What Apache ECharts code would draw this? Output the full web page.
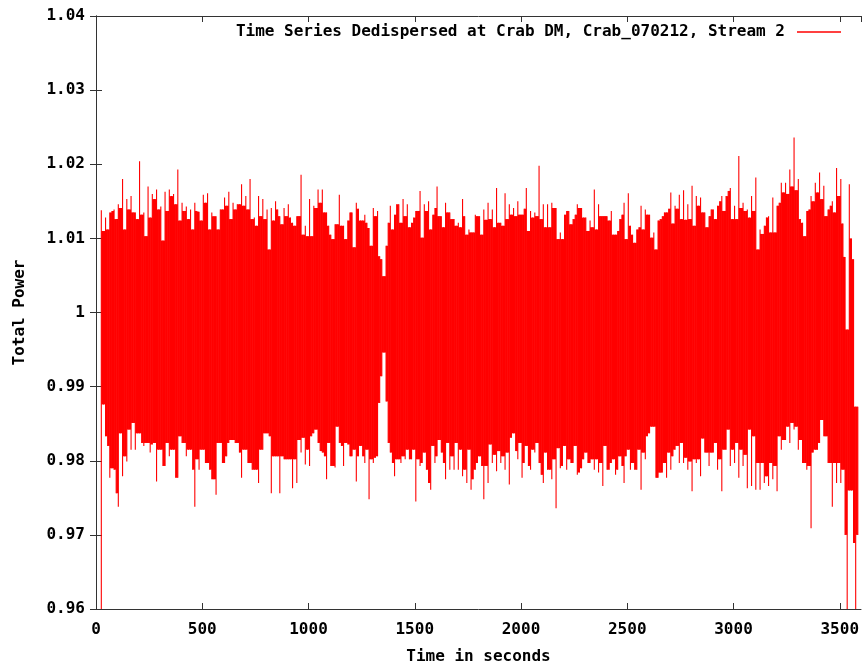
<!DOCTYPE html>
<html>
<head>
<meta charset="utf-8">
<script src="https://cdn.jsdelivr.net/npm/echarts@6/dist/echarts.min.js"></script>
<style>
html,body{margin:0;padding:0;background:#fff;}
#chart{width:866px;height:666px;}
</style>
</head>
<body>
<div id="chart"></div>
<script>
// Sample times (seconds)
const time = [
25,35,45,55,65,75,85,95,105,115,125,135,145,155,165,175,185,195,205,215,
225,235,245,255,265,275,285,295,305,315,325,335,345,355,365,375,385,395,405,415,
425,435,445,455,465,475,485,495,505,515,525,535,545,555,565,575,585,595,605,615,
625,635,645,655,665,675,685,695,705,715,725,735,745,755,765,775,785,795,805,815,
825,835,845,855,865,875,885,895,
905,915,925,935,945,955,965,975,985,995,1005,1015,1025,1035,1045,1055,1065,1075,1085,1095,
1105,1115,1125,1135,1145,1155,1165,1175,1185,1195,1205,1215,1225,1235,1245,1255,1265,1275,1285,1295,
1305,1315,1325,1335,1345,1355,1365,1375,1385,1395,1405,1415,1425,1435,1445,1455,1465,1475,1485,1495,
1505,1515,1525,1535,1545,1555,1565,1575,1585,1595,1605,1615,1625,1635,1645,1655,1665,1675,1685,1695,
1705,1715,1725,1735,1745,1755,1765,1775,1785,1795,
1805,1815,1825,1835,1845,1855,1865,1875,1885,1895,1905,1915,1925,1935,1945,1955,1965,1975,1985,1995,
2005,2015,2025,2035,2045,2055,2065,2075,2085,2095,2105,2115,2125,2135,2145,2155,2165,2175,2185,2195,
2205,2215,2225,2235,2245,2255,2265,2275,2285,2295,2305,2315,2325,2335,2345,2355,2365,2375,2385,2395,
2405,2415,2425,2435,2445,2455,2465,2475,2485,2495,2505,2515,2525,2535,2545,2555,2565,2575,2585,2595,
2605,2615,2625,2635,2645,2655,2665,2675,2685,2695,
2705,2715,2725,2735,2745,2755,2765,2775,2785,2795,2805,2815,2825,2835,2845,2855,2865,2875,2885,2895,
2905,2915,2925,2935,2945,2955,2965,2975,2985,2995,3005,3015,3025,3035,3045,3055,3065,3075,3085,3095,
3105,3115,3125,3135,3145,3155,3165,3175,3185,3195,3205,3215,3225,3235,3245,3255,3265,3275,3285,3295,
3305,3315,3325,3335,3345,3355,3365,3375,3385,3395,3405,3415,3425,3435,3445,3455,3465,3475,3485,3495,
3505,3515,3525,3535,3545,3555,3565,3575,3585
];
// Upper envelope of total power
const high = [
1.0138,1.0110,1.0128,1.0112,1.0135,1.0137,1.0139,1.0126,1.0146,1.0141,1.0180,1.0112,1.0153,1.0139,1.0157,1.0135,1.0135,1.0126,1.0204,1.0132,
1.0135,1.0103,1.0170,1.0128,1.0160,1.0153,1.0166,1.0139,1.0143,1.0097,1.0163,1.0137,1.0166,1.0157,1.0160,1.0146,1.0193,1.0124,1.0148,1.0137,
1.0143,1.0126,1.0139,1.0112,1.0148,1.0137,1.0136,1.0124,1.0159,1.0148,1.0161,1.0112,1.0135,1.0130,1.0130,1.0112,1.0139,1.0139,1.0155,1.0144,
1.0163,1.0126,1.0148,1.0139,1.0146,1.0146,1.0173,1.0144,1.0157,1.0139,1.0180,1.0126,1.0128,1.0117,1.0157,1.0130,1.0153,1.0126,1.0139,1.0085,
1.0141,1.0124,1.0150,1.0139,1.0130,1.0119,1.0141,1.0130,
1.0146,1.0128,1.0121,1.0117,1.0130,1.0130,1.0186,1.0105,1.0117,1.0103,1.0153,1.0103,1.0144,1.0141,1.0166,1.0148,1.0166,1.0135,1.0135,1.0117,
1.0105,1.0099,1.0119,1.0119,1.0159,1.0117,1.0117,1.0099,1.0124,1.0135,1.0135,1.0088,1.0148,1.0140,1.0124,1.0124,1.0132,1.0121,1.0114,1.0090,
1.0141,1.0130,1.0137,1.0076,1.0072,1.0049,1.0090,1.0121,1.0144,1.0112,1.0132,1.0146,1.0146,1.0121,1.0153,1.0130,1.0146,1.0115,1.0121,1.0128,
1.0137,1.0137,1.0164,1.0101,1.0146,1.0137,1.0150,1.0112,1.0132,1.0141,1.0170,1.0130,1.0130,1.0115,1.0148,1.0135,1.0135,1.0126,1.0126,1.0117,
1.0121,1.0115,1.0153,1.0130,1.0105,1.0112,1.0108,1.0108,1.0132,1.0130,
1.0130,1.0105,1.0139,1.0125,1.0148,1.0126,1.0139,1.0115,1.0168,1.0121,1.0121,1.0117,1.0161,1.0126,1.0146,1.0132,1.0141,1.0130,1.0150,1.0132,
1.0132,1.0140,1.0168,1.0110,1.0137,1.0128,1.0135,1.0130,1.0198,1.0126,1.0146,1.0115,1.0146,1.0115,1.0148,1.0141,1.0141,1.0099,1.0108,1.0099,
1.0132,1.0137,1.0137,1.0119,1.0126,1.0132,1.0146,1.0141,1.0141,1.0128,1.0128,1.0110,1.0124,1.0115,1.0166,1.0112,1.0146,1.0130,1.0130,1.0130,
1.0130,1.0124,1.0137,1.0105,1.0105,1.0110,1.0126,1.0132,1.0148,1.0099,1.0161,1.0117,1.0105,1.0094,1.0112,1.0115,1.0144,1.0112,1.0139,1.0132,
1.0132,1.0101,1.0108,1.0085,1.0124,1.0126,1.0130,1.0135,1.0135,1.0140,
1.0162,1.0120,1.0144,1.0140,1.0159,1.0126,1.0165,1.0125,1.0146,1.0126,1.0171,1.0117,1.0157,1.0144,1.0155,1.0135,1.0135,1.0115,1.0130,1.0139,
1.0139,1.0126,1.0144,1.0150,1.0157,1.0137,1.0157,1.0164,1.0168,1.0126,1.0144,1.0126,1.0211,1.0141,1.0148,1.0137,1.0139,1.0128,1.0157,1.0137,
1.0182,1.0085,1.0112,1.0106,1.0117,1.0128,1.0130,1.0108,1.0155,1.0108,1.0144,1.0148,1.0175,1.0162,1.0175,1.0160,1.0193,1.0170,1.0236,1.0165,
1.0180,1.0126,1.0121,1.0103,1.0137,1.0139,1.0157,1.0150,1.0175,1.0162,1.0189,1.0153,1.0171,1.0130,1.0139,1.0144,1.0150,1.0135,1.0195,1.0157,
1.0180,1.0120,1.0075,0.9977,1.0173,1.0100,1.0072,0.9873,0.9873
];
// Lower envelope of total power
const low = [
0.9580,0.9876,0.9833,0.9820,0.9777,0.9790,0.9788,0.9756,0.9738,0.9837,0.9779,0.9806,0.9799,0.9842,0.9815,0.9851,0.9815,0.9837,0.9837,0.9824,
0.9820,0.9824,0.9824,0.9811,0.9822,0.9824,0.9772,0.9815,0.9815,0.9793,0.9793,0.9824,0.9806,0.9815,0.9815,0.9777,0.9777,0.9833,0.9824,0.9824,
0.9806,0.9815,0.9815,0.9788,0.9738,0.9802,0.9788,0.9815,0.9815,0.9797,0.9797,0.9788,0.9775,0.9775,0.9754,0.9824,0.9824,0.9797,0.9797,0.9806,
0.9824,0.9828,0.9828,0.9824,0.9824,0.9811,0.9777,0.9815,0.9815,0.9797,0.9797,0.9788,0.9788,0.9788,0.9770,0.9815,0.9815,0.9837,0.9837,0.9833,
0.9756,0.9806,0.9806,0.9806,0.9756,0.9806,0.9802,0.9802,
0.9802,0.9802,0.9763,0.9802,0.9770,0.9828,0.9811,0.9831,0.9795,0.9815,0.9793,0.9833,0.9837,0.9842,0.9824,0.9813,0.9811,0.9806,0.9775,0.9824,
0.9793,0.9793,0.9791,0.9846,0.9824,0.9820,0.9793,0.9824,0.9822,0.9806,0.9806,0.9815,0.9772,0.9806,0.9820,0.9806,0.9797,0.9815,0.9748,0.9802,
0.9797,0.9804,0.9806,0.9878,0.9914,0.9946,0.9880,0.9824,0.9811,0.9797,0.9779,0.9802,0.9802,0.9797,0.9806,0.9802,0.9815,0.9802,0.9802,0.9815,
0.9745,0.9802,0.9793,0.9797,0.9811,0.9788,0.9770,0.9761,0.9820,0.9797,0.9806,0.9828,0.9811,0.9797,0.9775,0.9824,0.9788,0.9806,0.9788,0.9824,
0.9788,0.9815,0.9779,0.9788,0.9770,0.9815,0.9761,0.9775,0.9788,0.9797,
0.9806,0.9793,0.9748,0.9793,0.9770,0.9822,0.9797,0.9808,0.9786,0.9813,0.9797,0.9806,0.9788,0.9811,0.9768,0.9831,0.9837,0.9813,0.9802,0.9824,
0.9777,0.9797,0.9820,0.9793,0.9788,0.9815,0.9811,0.9824,0.9797,0.9781,0.9770,0.9811,0.9788,0.9788,0.9775,0.9802,0.9736,0.9817,0.9790,0.9793,
0.9820,0.9788,0.9802,0.9797,0.9797,0.9820,0.9781,0.9784,0.9790,0.9802,0.9811,0.9797,0.9797,0.9802,0.9788,0.9802,0.9784,0.9797,0.9766,0.9820,
0.9788,0.9788,0.9797,0.9802,0.9781,0.9788,0.9806,0.9793,0.9770,0.9806,0.9815,0.9788,0.9797,0.9788,0.9788,0.9815,0.9761,0.9811,0.9802,0.9833,
0.9837,0.9846,0.9846,0.9777,0.9777,0.9784,0.9784,0.9797,0.9777,0.9811,
0.9788,0.9806,0.9815,0.9820,0.9797,0.9824,0.9797,0.9804,0.9788,0.9799,0.9759,0.9802,0.9797,0.9802,0.9779,0.9830,0.9811,0.9811,0.9793,0.9811,
0.9811,0.9824,0.9788,0.9802,0.9759,0.9815,0.9815,0.9842,0.9793,0.9815,0.9797,0.9824,0.9777,0.9815,0.9793,0.9808,0.9763,0.9842,0.9766,0.9833,
0.9761,0.9797,0.9761,0.9797,0.9770,0.9779,0.9766,0.9797,0.9775,0.9793,0.9759,0.9833,0.9815,0.9828,0.9828,0.9846,0.9824,0.9851,0.9842,0.9846,
0.9815,0.9828,0.9797,0.9797,0.9788,0.9793,0.9709,0.9811,0.9815,0.9815,0.9824,0.9855,0.9833,0.9833,0.9797,0.9797,0.9738,0.9797,0.9770,0.9797,
0.9770,0.9788,0.9700,0.9580,0.9760,0.9760,0.9689,0.9580,0.9700
];
const seriesName = 'Time Series Dedispersed at Crab DM, Crab_070212, Stream 2';
const xTitle = 'Time in seconds';
const yTitle = 'Total Power';

const RED = '#ff0000';
const FONT = '"DejaVu Sans Mono", "Liberation Mono", monospace';
const AXIS_COLOR = '#333';

const data = time.map((t, i) => [t, low[i], high[i]]);

function renderItem(params, api) {
  const i = params.dataIndex;
  const t = api.value(0), lo = api.value(1), hi = api.value(2);
  const pHi = api.coord([t, hi]);
  const pLo = api.coord([t, lo]);
  const children = [{
    type: 'rect',
    shape: { x: pHi[0] - 0.55, y: pHi[1], width: 1.1, height: pLo[1] - pHi[1] },
    style: { fill: RED }
  }];
  if (i < time.length - 1) {
    const topV = Math.min(hi, high[i + 1]);
    const botV = Math.max(lo, low[i + 1]);
    const a = api.coord([t, topV]);
    const b = api.coord([time[i + 1], botV]);
    children.push({
      type: 'rect',
      shape: { x: a[0], y: a[1], width: b[0] - a[0], height: b[1] - a[1] },
      style: { fill: RED }
    });
  }
  return { type: 'group', children };
}

const chart = echarts.init(document.getElementById('chart'), null, { renderer: 'canvas' });
const labelStyle = { color: '#000', fontFamily: FONT, fontWeight: 'bold', fontSize: 16 };
const lineStyle = { color: AXIS_COLOR, width: 1 };

chart.setOption({
  animation: false,
  backgroundColor: '#fff',
  grid: { left: 96, right: 5, top: 16, bottom: 57, containLabel: false, outerBoundsMode: 'none' },
  legend: {
    data: [{ name: seriesName, icon: 'rect' }],
    right: 20, top: 19,
    align: 'right',
    itemWidth: 44, itemHeight: 1.5,
    textStyle: Object.assign({}, labelStyle, { padding: [0, 7, 0, 0] }),
    itemStyle: { color: RED }
  },
  xAxis: [{
    type: 'value', position: 'bottom', min: 0, max: 3600, interval: 500,
    name: xTitle, nameLocation: 'middle', nameGap: 40,
    nameTextStyle: labelStyle,
    axisLine: { show: true, lineStyle: lineStyle },
    axisTick: { show: true, inside: true, length: 6, lineStyle: lineStyle },
    axisLabel: Object.assign({ margin: 13, showMaxLabel: false, formatter: v => String(v) }, labelStyle),
    splitLine: { show: false }
  }, {
    type: 'value', position: 'top', min: 0, max: 3600, interval: 500,
    axisLine: { show: true, lineStyle: lineStyle },
    axisTick: { show: true, inside: true, length: 6, lineStyle: lineStyle },
    axisLabel: { show: false },
    splitLine: { show: false }
  }],
  yAxis: [{
    type: 'value', position: 'left', min: 0.96, max: 1.04, interval: 0.01,
    name: yTitle, nameLocation: 'middle', nameGap: 68, nameRotate: 90,
    nameTextStyle: labelStyle,
    axisLine: { show: true, lineStyle: lineStyle },
    axisTick: { show: true, inside: true, length: 6, lineStyle: lineStyle },
    axisLabel: Object.assign({
      margin: 11,
      padding: [4, 0, 0, 0],
      formatter: v => String(parseFloat(v.toFixed(2)))
    }, labelStyle),
    splitLine: { show: false }
  }, {
    type: 'value', position: 'right', min: 0.96, max: 1.04, interval: 0.01,
    axisLine: { show: true, lineStyle: lineStyle },
    axisTick: { show: true, inside: true, length: 6, lineStyle: lineStyle },
    axisLabel: { show: false },
    splitLine: { show: false }
  }],
  series: [{
    name: seriesName,
    type: 'custom',
    xAxisIndex: 0, yAxisIndex: 0,
    renderItem: renderItem,
    clip: true,
    itemStyle: { color: RED },
    encode: { x: 0, y: [1, 2] },
    data: data
  }]
});
</script>
</body>
</html>
